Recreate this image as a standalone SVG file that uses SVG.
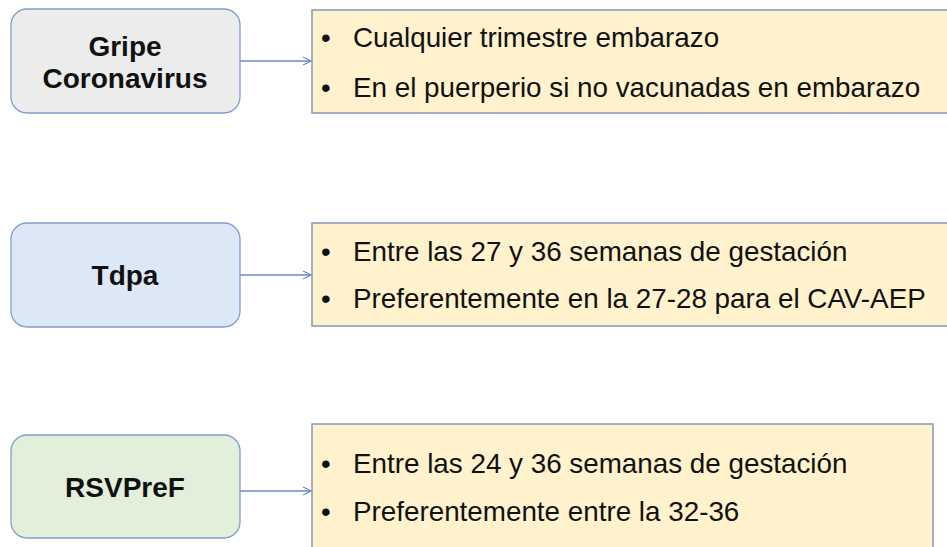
<svg xmlns="http://www.w3.org/2000/svg" width="947" height="547" viewBox="0 0 947 547">
<defs>
<style>
.node{stroke:#7f9dd0;stroke-width:1.3}
.info{fill:#fff2cc;stroke:#8497b9;stroke-width:1.5}
.lbl{font-family:"Liberation Sans",Arial,sans-serif;font-weight:bold;font-size:28px;fill:#111;text-anchor:middle}
.txt{font-family:"Liberation Sans",Arial,sans-serif;font-size:27.8px;fill:#111}
.conn{stroke:#6a8ccc;stroke-width:1.3;fill:none}
</style>
<marker id="arr" viewBox="0 0 10 10" refX="9" refY="5" markerWidth="10" markerHeight="10" markerUnits="userSpaceOnUse" orient="auto">
<path d="M1,1 L9,5 L1,9" fill="none" stroke="#6a8ccc" stroke-width="1.2"/>
</marker>
</defs>
<rect width="947" height="547" fill="#ffffff"/>
<g id="connectors">
<line class="conn" x1="240" y1="61" x2="311" y2="61" marker-end="url(#arr)"/>
<line class="conn" x1="240" y1="275" x2="311" y2="275" marker-end="url(#arr)"/>
<line class="conn" x1="240" y1="491" x2="311" y2="491" marker-end="url(#arr)"/>
</g>
<g id="gripe">
<rect class="node" x="11" y="9" width="229" height="104" rx="16" fill="#ececec"/>
<text class="lbl" x="125" y="56">Gripe</text>
<text class="lbl" x="125" y="88">Coronavirus</text>
</g>
<g id="gripe-info">
<rect class="info" x="312" y="10" width="650" height="103"/>
<text class="txt" x="321" y="47">•</text>
<text class="txt" x="353" y="47">Cualquier trimestre embarazo</text>
<text class="txt" x="321" y="97">•</text>
<text class="txt" x="353" y="97">En el puerperio si no vacunadas en embarazo</text>
</g>
<g id="tdpa">
<rect class="node" x="11" y="223" width="229" height="104" rx="16" fill="#dce8f6"/>
<text class="lbl" x="125" y="285">Tdpa</text>
</g>
<g id="tdpa-info">
<rect class="info" x="312" y="223" width="650" height="103"/>
<text class="txt" x="321" y="261">•</text>
<text class="txt" x="353" y="261">Entre las 27 y 36 semanas de gestación</text>
<text class="txt" x="321" y="308">•</text>
<text class="txt" x="353" y="308">Preferentemente en la 27-28 para el CAV-AEP</text>
</g>
<g id="rsvpref">
<rect class="node" x="11" y="435" width="229" height="103" rx="16" fill="#e2efda"/>
<text class="lbl" x="125" y="497">RSVPreF</text>
</g>
<g id="rsvpref-info">
<rect class="info" x="312" y="424" width="621" height="140"/>
<text class="txt" x="321" y="473">•</text>
<text class="txt" x="353" y="473">Entre las 24 y 36 semanas de gestación</text>
<text class="txt" x="321" y="521">•</text>
<text class="txt" x="353" y="521">Preferentemente entre la 32-36</text>
</g>
</svg>
